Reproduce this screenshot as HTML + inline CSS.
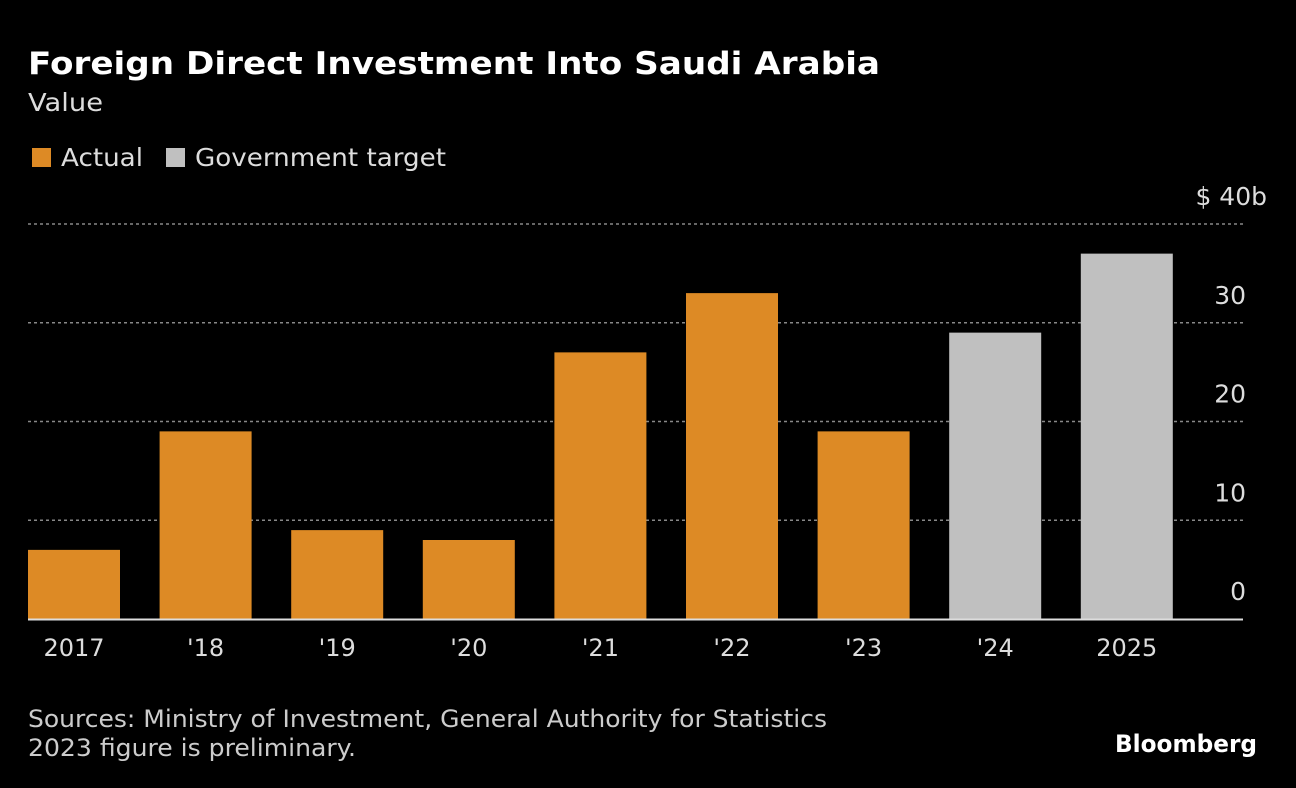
<!DOCTYPE html>
<html><head><meta charset="utf-8">
<style>
html,body{margin:0;padding:0;background:#000;width:1296px;height:788px;overflow:hidden}
svg{display:block}
text{font-family:"DejaVu Sans","Liberation Sans",sans-serif}
</style></head>
<body>
<svg id="chart" width="1296" height="788">
<text x="28" y="74" fill="#fff" font-size="31" font-weight="bold" textLength="852" lengthAdjust="spacingAndGlyphs">Foreign Direct Investment Into Saudi Arabia</text>
<text x="28" y="111" fill="#ddd" font-size="25" textLength="75" lengthAdjust="spacingAndGlyphs">Value</text>
<g>
<rect x="32" y="148" width="19" height="19" fill="#dd8a25"/>
<text x="61" y="166" fill="#ddd" font-size="25" textLength="82" lengthAdjust="spacingAndGlyphs">Actual</text>
<rect x="166" y="148" width="19" height="19" fill="#c0c0c0"/>
<text x="195" y="166" fill="#ddd" font-size="25" textLength="251" lengthAdjust="spacingAndGlyphs">Government target</text>
</g>
<g id="grid"></g>
<g id="bars"></g>
<g id="xlabels"></g>
<line x1="28" y1="619.5" x2="1243" y2="619.5" stroke="#ddd" stroke-width="2"/>
<text x="28" y="727" fill="#ccc" font-size="24" textLength="799" lengthAdjust="spacingAndGlyphs">Sources: Ministry of Investment, General Authority for Statistics</text>
<text x="28" y="756" fill="#ccc" font-size="24" textLength="328" lengthAdjust="spacingAndGlyphs">2023 figure is preliminary.</text>
<text x="1257" y="752" fill="#fff" font-size="24" font-weight="bold" text-anchor="end" textLength="142" lengthAdjust="spacingAndGlyphs">Bloomberg</text>
</svg>
<script>
const categories=["2017","'18","'19","'20","'21","'22","'23","'24","2025"];
const values=[7,19,9,8,27,33,19,29,37];
const seriesType=["actual","actual","actual","actual","actual","actual","actual","target","target"];
const tickValues=[0,10,20,30,40];
const tickLabels=["0","10","20","30","$ 40b"];
const NS="http://www.w3.org/2000/svg";
const y0=619,pxPerUnit=(619-224)/40;
function y(v){return y0-v*pxPerUnit;}
function x(i){return 28+i*131.6;}
const bw=92;
const grid=document.getElementById('grid');
tickValues.forEach((t,i)=>{
 if(t>0){const l=document.createElementNS(NS,'line');
 l.setAttribute('x1',28);l.setAttribute('x2',1243);l.setAttribute('y1',y(t));l.setAttribute('y2',y(t));
 l.setAttribute('stroke','#888');l.setAttribute('stroke-width','1.5');l.setAttribute('stroke-dasharray','3,3');
 
 
 grid.appendChild(l);}
 const tx=document.createElementNS(NS,'text');
 tx.setAttribute('x',t===40?1267:1246);tx.setAttribute('y',y(t)-19);tx.setAttribute('text-anchor','end');
 tx.setAttribute('fill','#ddd');tx.setAttribute('font-size','25');tx.textContent=tickLabels[i];
 
 
 grid.appendChild(tx);
});
const bars=document.getElementById('bars'),xl=document.getElementById('xlabels');
values.forEach((v,i)=>{
 const r=document.createElementNS(NS,'rect');
 r.setAttribute('x',x(i));r.setAttribute('width',bw);r.setAttribute('y',y(v));r.setAttribute('height',y0-y(v));
 r.setAttribute('fill',seriesType[i]==='actual'?'#dd8a25':'#c0c0c0');
 
 
 bars.appendChild(r);
 const t=document.createElementNS(NS,'text');
 t.setAttribute('x',x(i)+bw/2);t.setAttribute('y',656);t.setAttribute('text-anchor','middle');
 t.setAttribute('fill','#ddd');t.setAttribute('font-size','24');t.textContent=categories[i];
 
 
 xl.appendChild(t);
});
</script>
</body></html>
